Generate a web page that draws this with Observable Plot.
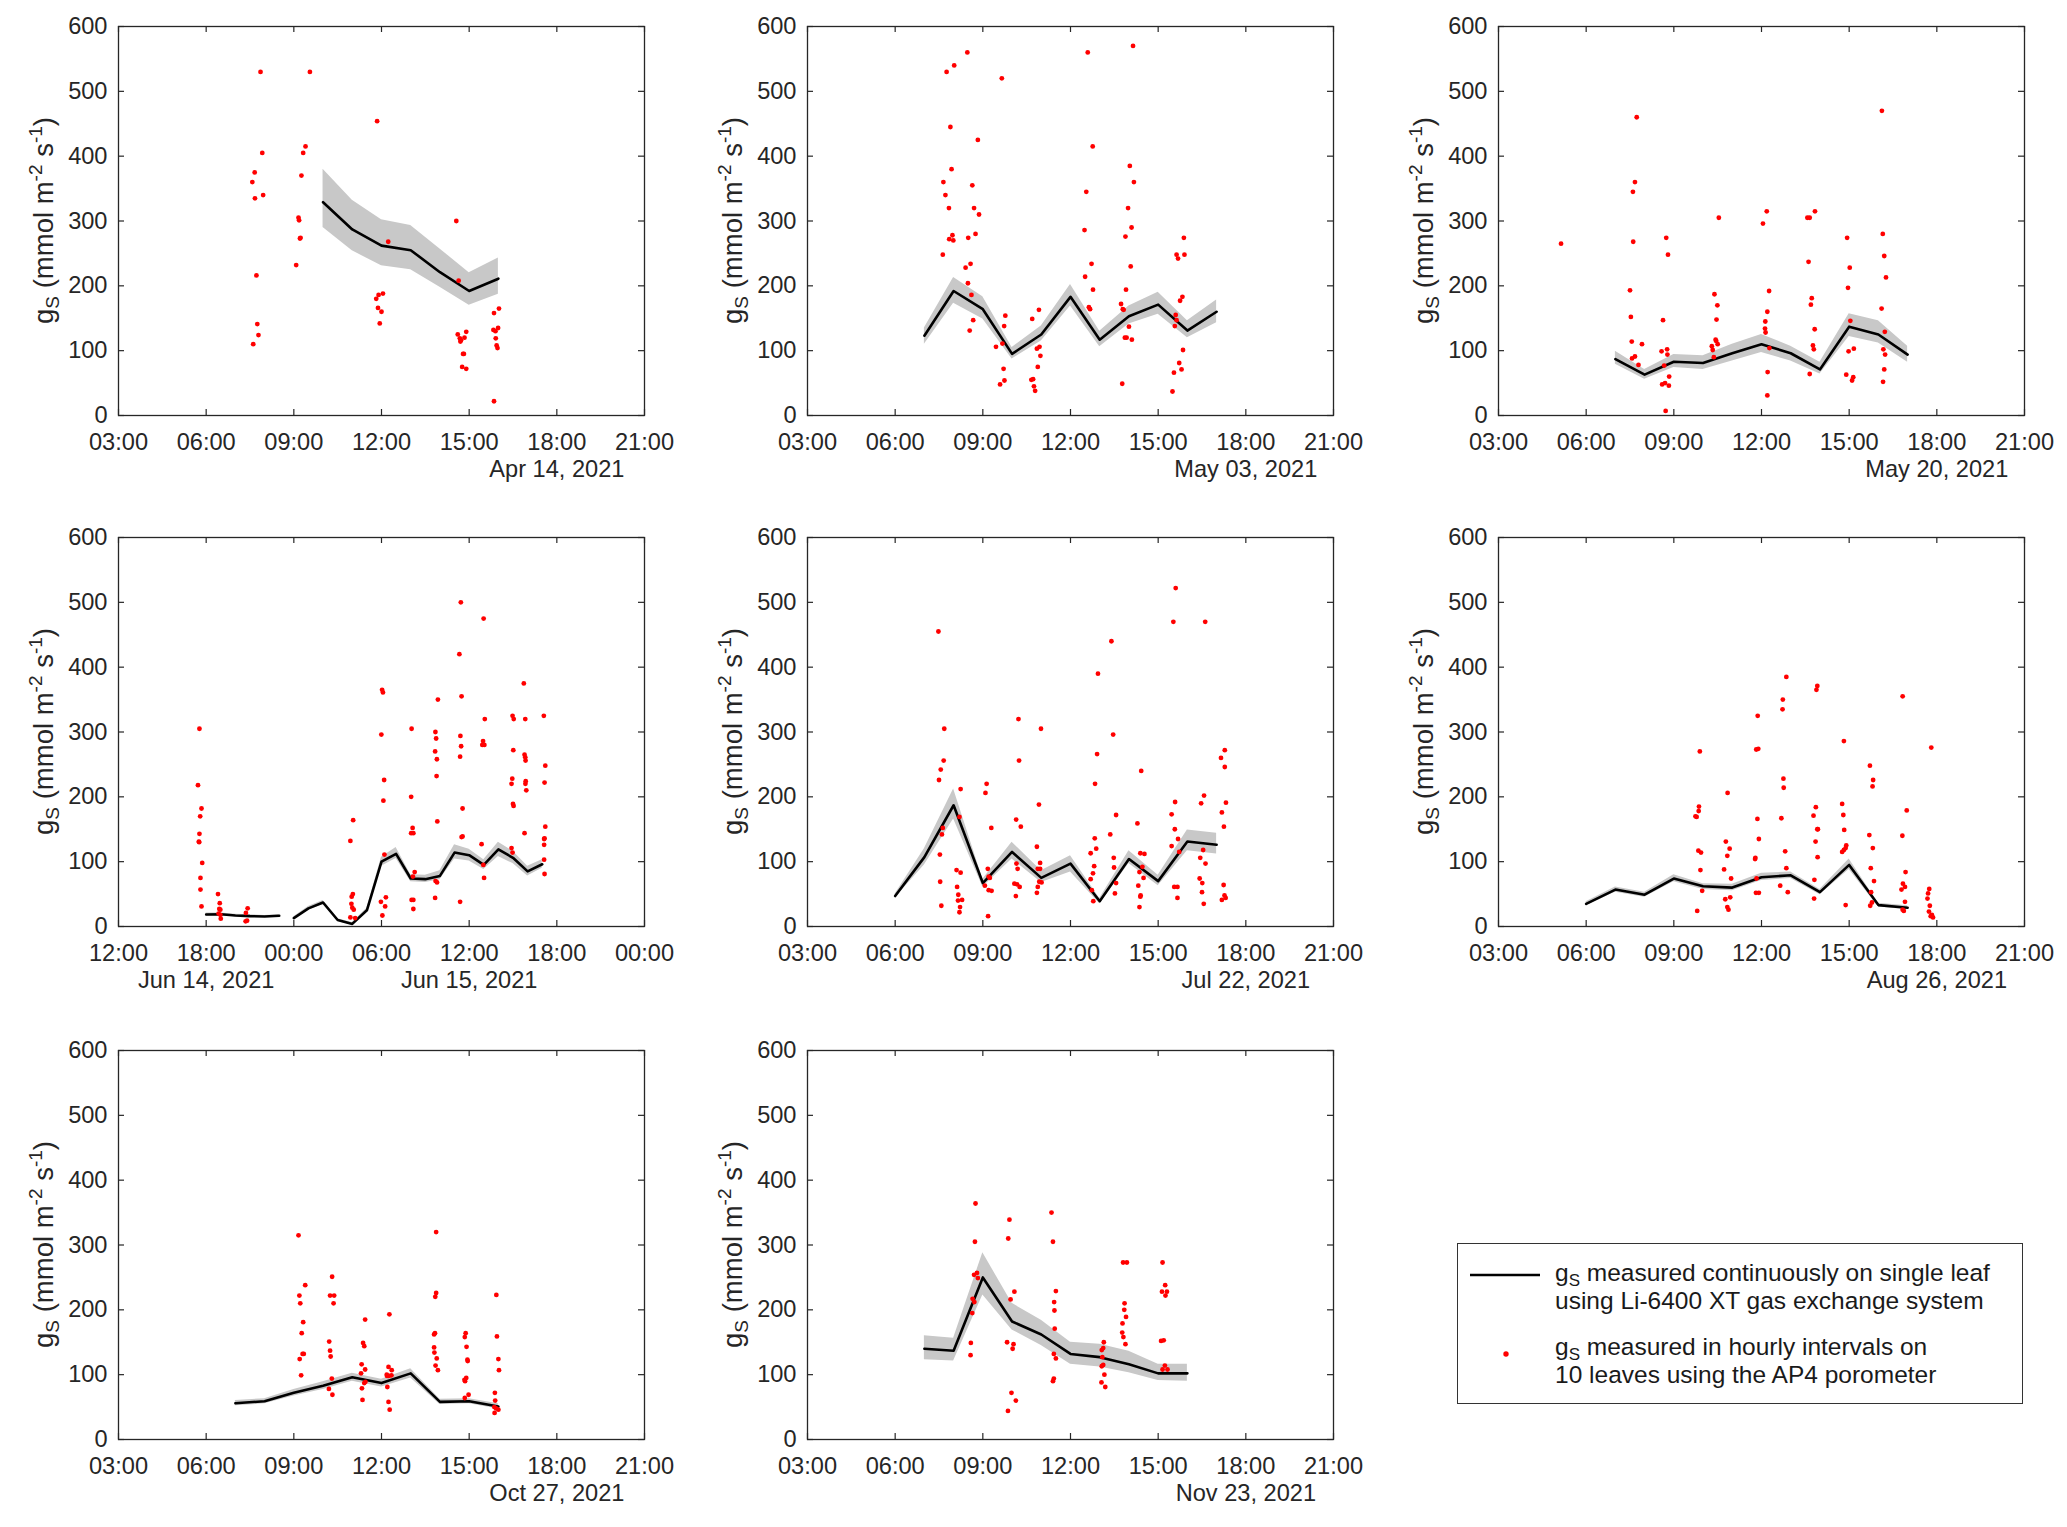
<!DOCTYPE html>
<html>
<head>
<meta charset="utf-8">
<script src="https://cdn.jsdelivr.net/npm/d3@7"></script>
<script src="https://cdn.jsdelivr.net/npm/@observablehq/plot@0.6"></script>
<style>
  body { margin: 0; background: #fff; }
  #page { position: relative; width: 2067px; height: 1527px; font-family: "Liberation Sans", Arial, sans-serif; color: #262626; }
  .panel { position: absolute; }
  #legend { position: absolute; left: 1457px; top: 1243px; width: 566px; height: 161px; border: 1.5px solid #333; box-sizing: border-box; background: #fff; font-size: 24.5px; color: #1a1a1a; }
  #legend .entry { position: absolute; left: 97px; line-height: 28px; white-space: nowrap; }
  #legend sub { font-size: 17px; vertical-align: -5px; line-height: 0; }
</style>
</head>
<body>
<div id="page"></div>
<script>
// shared ticks
const yTicks = [0, 100, 200, 300, 400, 500, 600]
const dayTicks = [3, 6, 9, 12, 15, 18, 21]
const twoDayTicks = [12, 18, 24, 30, 36, 42, 48]

// Apr 14, 2021
const aprDots = [[7.86,530],[7.58,360],[7.66,375],[7.67,335],[7.92,405],[7.95,340],[7.72,216],[7.75,141],[7.79,124],[7.61,110],
  [9.55,530],[9.40,415],[9.32,405],[9.26,370],[9.16,305],[9.18,301],[9.21,273],[9.23,274],[9.08,232],
  [11.85,454],[12.23,268],[11.82,180],[11.90,186],[12.05,188],[11.88,166],[12.00,160],[11.94,142],
  [14.56,300],[14.64,208],[14.61,125],[14.68,119],[14.70,114],[14.72,116],[14.84,120],[14.90,129],[14.79,95],[14.82,95],[14.76,75],[14.90,72],
  [15.85,158],[16.02,165],[15.83,132],[15.90,130],[15.99,135],[15.91,119],[15.94,108],[15.97,104],[15.85,22]]
const aprHours = [10, 11, 12, 13, 14, 15, 16]
const aprGs = [329, 287, 262, 255, 221, 192, 211]
const aprLow = [290, 254, 231, 225, 198, 170, 187]
const aprHigh = [380, 332, 302, 293, 257, 220, 243]

// May 03, 2021
const may03Dots = [[7.76,530],[8.02,540],[8.47,560],[7.89,445],[8.83,425],[7.93,380],[7.65,360],[8.64,355],[7.72,340],[7.84,320],[8.70,320],[8.87,310],[7.85,272],[7.99,270],[7.96,278],[8.50,274],[8.75,280],[7.63,248],[8.58,234],[8.41,228],[8.49,204],[8.61,186],[8.67,147],[8.55,131],
  [9.65,520],[9.77,154],[9.73,138],[9.67,111],[9.45,106],[9.71,72],[9.74,54],[9.59,48],
  [10.92,163],[10.69,149],[10.94,106],[10.85,103],[10.97,92],[10.88,75],[10.66,55],[10.72,56],[10.75,45],[10.79,38],
  [12.59,560],[12.76,415],[12.54,345],[12.48,286],[12.72,234],[12.50,214],[12.77,194],[12.63,167],[12.67,164],
  [14.14,570],[14.03,385],[14.17,360],[13.97,320],[14.09,290],[13.88,276],[14.06,230],[13.90,194],[13.73,172],[13.79,164],[13.82,163],[14.00,137],[13.86,120],[13.92,120],[14.10,117],[13.77,49],
  [15.88,274],[15.63,248],[15.90,248],[15.68,242],[15.83,183],[15.75,177],[15.60,155],[15.63,147],[15.57,138],[15.85,101],[15.72,81],[15.80,71],[15.54,66],[15.49,37]]
const may03Hours = [7, 8, 9, 10, 11, 12, 13, 14, 15, 16, 17]
const may03Gs = [123, 192, 164, 95, 125, 183, 117, 153, 171, 131, 160]
const may03Low = [110, 173, 149, 87, 115, 169, 106, 141, 156, 120, 143]
const may03High = [135, 213, 183, 105, 138, 202, 130, 169, 190, 146, 178]

// May 20, 2021
const may20Dots = [[5.14,265],
  [7.73,460],[7.67,360],[7.60,345],[7.61,268],[7.50,193],[7.53,152],[7.56,114],[7.91,110],[7.57,88],[7.67,91],[7.79,78],
  [8.74,274],[8.80,248],[8.63,147],[8.58,99],[8.77,102],[8.78,94],[8.67,77],[8.84,60],[8.60,48],[8.70,50],[8.83,46],[8.72,7],
  [10.54,305],[10.39,187],[10.49,170],[10.46,148],[10.43,117],[10.45,115],[10.50,110],[10.30,107],[10.33,101],[10.37,90],
  [12.18,315],[12.05,296],[12.26,192],[12.20,160],[12.13,145],[12.12,134],[12.14,128],[12.27,104],[12.21,67],[12.20,31],
  [13.57,305],[13.65,305],[13.83,315],[13.61,237],[13.72,181],[13.69,171],[13.82,133],[13.76,108],[13.79,102],[13.65,64],
  [14.93,274],[15.02,228],[14.96,197],[15.04,146],[14.98,99],[15.16,103],[14.90,63],[15.14,59],[15.10,54],
  [16.12,470],[16.15,280],[16.20,246],[16.26,213],[16.11,165],[16.22,129],[16.17,102],[16.23,94],[16.20,71],[16.16,52]]
const may20Hours = [7, 8, 9, 10, 11, 12, 13, 14, 15, 16, 17]
const may20Gs = [87, 63, 83, 81, 96, 110, 96, 71, 137, 125, 94]
const may20Low = [79, 56, 74, 71, 84, 97, 84, 64, 122, 112, 82]
const may20High = [99, 71, 94, 92, 110, 125, 107, 82, 157, 146, 107]

// Jun 14-15, 2021 (hours counted from Jun 14 00:00; null = gap in record)
const junDots = [[17.54,305],[17.44,218],[17.68,182],[17.59,170],[17.54,143],[17.50,131],[17.52,130],[17.73,98],[17.61,75],[17.61,57],[17.68,31],
  [18.81,50],[18.93,36],[18.90,27],[18.97,26],[18.85,20],[18.97,18],[19.00,12],
  [20.84,28],[20.72,21],[20.70,8],[20.80,9],
  [27.87,132],[28.06,164],[28.04,50],[27.96,46],[27.94,35],[28.00,29],[28.10,26],[27.87,14],[28.20,13],
  [30.04,365],[30.10,361],[29.99,296],[30.18,226],[30.13,194],[30.20,111],[29.96,38],[30.30,45],[30.25,31],[30.06,17],
  [32.06,305],[32.03,200],[32.13,152],[32.03,144],[32.18,144],[32.27,84],[32.15,77],[32.06,41],[32.18,41],[32.18,27],
  [33.86,350],[33.69,300],[33.74,290],[33.67,270],[33.79,258],[33.77,232],[33.82,162],[33.70,70],[33.80,68],[33.67,44],
  [35.43,500],[35.33,420],[35.48,355],[35.40,294],[35.45,278],[35.38,262],[35.55,182],[35.48,138],[35.55,139],[35.38,38],
  [36.99,475],[37.07,320],[36.95,286],[36.90,280],[37.04,280],[36.85,127],[36.97,95],[37.02,75],
  [39.74,375],[38.97,325],[39.05,320],[39.84,320],[39.02,272],[39.79,265],[39.84,261],[39.86,256],[38.95,228],[38.90,220],[39.87,224],[39.85,220],[39.91,210],[39.00,189],[39.04,186],[39.79,144],[38.90,121],[38.97,114],
  [41.11,325],[41.21,248],[41.16,222],[41.21,154],[41.16,136],[41.13,135],[41.13,126],[41.13,103],[41.16,81]]
const junHours = [18, 19, 20, 21, 22, 23, 23.5, 24, 25, 26, 27, 28, 29, 30, 31, 32, 33, 34, 35, 36, 37, 38, 39, 40, 41]
const junGs = [18.5, 19, 17, 16, 15.5, 16.5, null, 13, 28, 37, 10, 4, 25, 100, 112, 74, 73, 78, 114, 110, 95, 119, 106, 85, 96]
const junLow = [16, 17, 15, 14, 14, 15, null, 11, 25, 34, 8, 2, 22, 93, 105, 69, 68, 72, 104, 101, 88, 108, 97, 78, 90]
const junHigh = [21, 21, 19, 18, 17, 18, null, 15, 31, 40, 12, 6, 28, 107, 122, 80, 79, 86, 126, 119, 103, 130, 116, 93, 103]

// Jul 22, 2021
const julDots = [[7.48,455],[7.68,305],[7.66,256],[7.56,242],[7.50,226],[7.63,152],[7.60,142],[7.53,111],[7.54,69],[7.58,32],
  [8.24,212],[8.20,169],[8.10,87],[8.24,83],[8.12,61],[8.16,49],[8.15,40],[8.29,41],[8.22,30],[8.20,22],
  [9.13,220],[9.09,206],[9.29,152],[9.17,89],[9.20,77],[9.24,75],[9.07,63],[9.20,56],[9.30,55],[9.18,16],
  [10.22,320],[10.24,256],[10.14,165],[10.30,154],[10.15,97],[10.19,89],[10.08,66],[10.17,65],[10.26,61],[10.13,47],
  [10.99,305],[10.92,188],[10.85,123],[10.96,98],[10.88,89],[10.96,89],[10.93,69],[11.01,68],[10.88,61],[10.85,52],
  [12.94,390],[13.40,440],[12.91,266],[13.46,296],[12.84,220],[13.56,172],[13.36,142],[12.83,136],[12.88,120],[12.69,113],[13.48,106],[12.81,93],[13.49,91],[12.77,82],[12.69,73],[13.56,67],[12.73,56],[13.52,51],[12.78,39],
  [14.42,240],[14.29,159],[14.39,113],[14.53,112],[14.46,92],[14.36,84],[14.50,75],[14.32,63],[14.40,48],[14.39,46],[14.36,30],
  [15.60,522],[15.52,470],[15.58,192],[15.46,173],[15.57,150],[15.68,135],[15.46,124],[15.72,115],[15.55,61],[15.66,61],[15.66,44],
  [16.61,470],[16.57,202],[16.47,190],[16.54,118],[16.44,106],[16.62,97],[16.42,74],[16.51,67],[16.50,53],[16.56,35],
  [17.28,272],[17.15,260],[17.28,246],[17.32,191],[17.18,176],[17.25,154],[17.24,64],[17.27,48],[17.31,44],[17.18,41]]
const julHours = [6, 7, 8, 9, 10, 11, 12, 13, 14, 15, 16, 17]
const julGs = [47, 107, 187, 67, 115, 75, 97, 39, 104, 70, 131, 126]
const julLow = [44, 95, 166, 61, 104, 68, 84, 35, 97, 63, 117, 112]
const julHigh = [50, 120, 212, 73, 130, 86, 109, 43, 117, 79, 149, 144]

// Aug 26, 2021
const augDots = [[9.89,270],[9.86,185],[9.85,178],[9.74,170],[9.78,169],[9.84,117],[9.93,114],[9.91,87],[9.97,55],[9.80,24],
  [10.84,206],[10.78,131],[10.91,120],[10.83,109],[10.72,88],[10.96,74],[10.93,45],[10.76,42],[10.83,30],[10.87,26],
  [11.87,325],[11.82,273],[11.89,274],[11.86,166],[11.91,135],[11.79,106],[11.78,104],[11.83,74],[11.81,52],[11.91,52],
  [12.85,385],[12.73,350],[12.72,335],[12.75,228],[12.76,214],[12.68,167],[12.81,116],[12.85,90],[12.64,63],[12.90,53],
  [13.91,371],[13.88,365],[13.86,184],[13.78,171],[13.91,150],[13.93,150],[13.85,131],[13.92,107],[13.81,72],[13.80,43],
  [14.82,286],[14.76,189],[14.80,172],[14.83,149],[14.90,125],[14.88,121],[14.76,115],[14.82,118],[14.88,33],
  [15.71,248],[15.82,226],[15.80,216],[15.69,141],[15.81,121],[15.74,90],[15.85,70],[15.75,53],[15.78,37],[15.72,32],
  [16.83,355],[16.97,179],[16.82,140],[16.93,84],[16.84,66],[16.91,61],[16.79,57],[16.91,38],[16.83,26],[16.87,24],
  [17.81,276],[17.74,58],[17.70,51],[17.68,43],[17.76,32],[17.73,23],[17.79,16],[17.83,18],[17.87,14]]
const augHours = [6, 7, 8, 9, 10, 11, 12, 13, 14, 15, 16, 17]
const augGs = [35, 57, 49, 74, 62, 60, 76, 79, 53, 95, 33, 29]
const augLow = [32, 53, 45, 69, 57, 55, 71, 74, 49, 88, 30, 26]
const augHigh = [38, 61, 53, 80, 66, 65, 82, 84, 57, 104, 36, 32]

// Oct 27, 2021
const octDots = [[9.16,315],[9.39,238],[9.19,222],[9.22,210],[9.32,181],[9.27,164],[9.30,132],[9.34,132],[9.20,124],[9.25,99],
  [10.31,251],[10.24,222],[10.38,222],[10.36,210],[10.21,151],[10.24,137],[10.26,128],[10.30,94],[10.20,78],[10.32,69],
  [11.44,185],[11.37,149],[11.41,144],[11.32,116],[11.44,108],[11.30,102],[11.45,89],[11.41,87],[11.33,79],[11.35,61],
  [12.27,193],[12.24,112],[12.35,107],[12.18,100],[12.25,98],[12.34,99],[12.19,98],[12.20,81],[12.24,58],[12.28,46],
  [13.87,320],[13.87,226],[13.84,220],[13.83,164],[13.80,162],[13.80,142],[13.81,134],[13.89,125],[13.85,114],[13.93,107],
  [14.88,164],[14.85,158],[14.91,143],[14.94,123],[14.95,121],[14.90,95],[14.84,92],[14.86,90],[14.98,69],[14.85,64],
  [15.93,223],[15.95,159],[16.00,124],[16.02,107],[15.88,72],[15.89,60],[15.86,50],[15.92,48],[16.00,46],[15.87,41]]
const octHours = [7, 8, 9, 10, 11, 12, 13, 14, 15, 16]
const octGs = [56, 59, 72, 83, 96, 87, 102, 58, 59, 51]
const octLow = [52, 55, 67, 77, 90, 81, 95, 54, 55, 47]
const octHigh = [60, 63, 77, 89, 102, 93, 109, 62, 63, 55]

// Nov 23, 2021
const novDots = [[8.75,364],[8.73,305],[8.70,254],[8.80,257],[8.83,249],[8.65,217],[8.71,212],[8.64,195],[8.59,149],[8.58,130],
  [9.91,339],[9.87,310],[10.08,228],[9.95,216],[9.83,150],[10.05,147],[10.02,140],[9.98,72],[10.13,60],[9.86,44],
  [11.35,350],[11.40,305],[11.50,229],[11.44,212],[11.45,199],[11.46,171],[11.43,132],[11.50,125],[11.43,94],[11.40,90],
  [13.14,150],[13.12,141],[13.07,138],[13.09,127],[13.12,115],[13.07,113],[13.16,100],[13.06,88],[13.19,81],
  [13.80,273],[13.93,273],[13.85,210],[13.84,200],[13.90,189],[13.78,179],[13.77,165],[13.81,158],[13.88,147],
  [15.15,273],[15.24,238],[15.13,228],[15.30,228],[15.25,222],[15.10,152],[15.19,153],[15.23,114],[15.15,108],[15.32,108]]
const novHours = [7, 8, 9, 10, 11, 12, 13, 14, 15, 16]
const novGs = [140, 137, 250, 182, 162, 132, 127, 116, 102, 102]
const novLow = [123, 121, 223, 169, 145, 116, 112, 103, 91, 90]
const novHigh = [160, 156, 288, 210, 184, 150, 147, 136, 116, 116]

const toRows = (hours, gs, low, high) => hours.map((h, i) => ({h, v: gs[i], lo: low[i], hi: high[i]}))

const panels = [
  {col: 0, row: 0, dots: aprDots, rows: toRows(aprHours, aprGs, aprLow, aprHigh), domain: [3, 21], ticks: dayTicks, dates: [{at: 18, label: "Apr 14, 2021"}]},
  {col: 1, row: 0, dots: may03Dots, rows: toRows(may03Hours, may03Gs, may03Low, may03High), domain: [3, 21], ticks: dayTicks, dates: [{at: 18, label: "May 03, 2021"}]},
  {col: 2, row: 0, dots: may20Dots, rows: toRows(may20Hours, may20Gs, may20Low, may20High), domain: [3, 21], ticks: dayTicks, dates: [{at: 18, label: "May 20, 2021"}]},
  {col: 0, row: 1, dots: junDots, rows: toRows(junHours, junGs, junLow, junHigh), domain: [12, 48], ticks: twoDayTicks, dates: [{at: 18, label: "Jun 14, 2021"}, {at: 36, label: "Jun 15, 2021"}]},
  {col: 1, row: 1, dots: julDots, rows: toRows(julHours, julGs, julLow, julHigh), domain: [3, 21], ticks: dayTicks, dates: [{at: 18, label: "Jul 22, 2021"}]},
  {col: 2, row: 1, dots: augDots, rows: toRows(augHours, augGs, augLow, augHigh), domain: [3, 21], ticks: dayTicks, dates: [{at: 18, label: "Aug 26, 2021"}]},
  {col: 0, row: 2, dots: octDots, rows: toRows(octHours, octGs, octLow, octHigh), domain: [3, 21], ticks: dayTicks, dates: [{at: 18, label: "Oct 27, 2021"}]},
  {col: 1, row: 2, dots: novDots, rows: toRows(novHours, novGs, novLow, novHigh), domain: [3, 21], ticks: dayTicks, dates: [{at: 18, label: "Nov 23, 2021"}]}
]

// layout (px)
const plotLefts = [118, 807, 1498]
const plotTops = [26, 537, 1050]
const PW = 526, PH = 389
const ML = 110, MR = 40, MT = 20, MB = 80
const axisColor = '#262626'

const hhmm = h => String(h % 24).padStart(2, '0') + ':00'

const page = d3.select('#page')

panels.forEach(p => {
  let chart = Plot.plot({
    width: ML + PW + MR,
    height: MT + PH + MB,
    marginLeft: ML,
    marginRight: MR,
    marginTop: MT,
    marginBottom: MB,
    x: {domain: p.domain},
    y: {domain: [0, 600]},
    marks: [
      Plot.areaY(p.rows, {x: 'h', y1: 'lo', y2: 'hi', fill: '#c8c8c8'}),
      Plot.line(p.rows, {x: 'h', y: 'v', stroke: 'black', strokeWidth: 2.6}),
      Plot.dot(p.dots, {x: d => d[0], y: d => d[1], r: 2.4, fill: 'red'}),
      // inward tick marks on all four sides
      Plot.ruleX(p.ticks, {x: d => d, insetTop: PH - 6, stroke: axisColor, strokeWidth: 1.2}),
      Plot.ruleX(p.ticks, {x: d => d, insetBottom: PH - 6, stroke: axisColor, strokeWidth: 1.2}),
      Plot.ruleY(yTicks, {y: d => d, insetRight: PW - 6, stroke: axisColor, strokeWidth: 1.2}),
      Plot.ruleY(yTicks, {y: d => d, insetLeft: PW - 6, stroke: axisColor, strokeWidth: 1.2}),
      Plot.frame({stroke: axisColor, strokeWidth: 1.3}),
      Plot.axisX(p.ticks, {tickFormat: hhmm, tickSize: 0, tickPadding: 18, label: null}),
      Plot.axisY(yTicks, {tickSize: 0, tickPadding: 11, label: null}),
      Plot.text(p.dates, {x: 'at', text: 'label', frameAnchor: 'bottom', dy: 61}),
    ],
    style: {
      fontSize: '23.6px',
      fontFamily: '"Liberation Sans", Arial, sans-serif',
      color: axisColor,
      background: 'transparent',
      overflow: 'visible',
    },
  })

  // y label with sub/superscripts
  const t = d3.select(chart).append('text')
    .attr('transform', `translate(${ML - 65},${MT + PH / 2}) rotate(-90)`)
    .attr('text-anchor', 'middle')
    .attr('font-size', 27.5)
    .attr('fill', axisColor)
  t.append('tspan').text('g')
  t.append('tspan').attr('font-size', 19).attr('dy', 6).text('S')
  t.append('tspan').attr('dy', -6).text(' (mmol m')
  t.append('tspan').attr('font-size', 19).attr('dy', -11).text('-2')
  t.append('tspan').attr('dy', 11).text(' s')
  t.append('tspan').attr('font-size', 19).attr('dy', -11).text('-1')
  t.append('tspan').attr('dy', 11).text(')')

  page.append('div')
    .attr('class', 'panel')
    .style('left', (plotLefts[p.col] - ML) + 'px')
    .style('top', (plotTops[p.row] - MT) + 'px')
    .append(() => chart)
})

// legend
const legend = page.append('div').attr('id', 'legend')
legend.append('svg').attr('width', 90).attr('height', 140)
  .style('position', 'absolute').style('left', 0).style('top', 0)
  .call(s => {
    s.append('line').attr('x1', 12).attr('x2', 82).attr('y1', 31).attr('y2', 31).attr('stroke', 'black').attr('stroke-width', 2.6)
    s.append('circle').attr('cx', 48).attr('cy', 110).attr('r', 2.7).attr('fill', 'red')
  })
legend.append('div').attr('class', 'entry').style('top', '15px')
  .html('g<sub>S</sub> measured continuously on single leaf<br>using Li-6400 XT gas exchange system')
legend.append('div').attr('class', 'entry').style('top', '89px')
  .html('g<sub>S</sub> measured in hourly intervals on<br>10 leaves using the AP4 porometer')
</script>
</body>
</html>
